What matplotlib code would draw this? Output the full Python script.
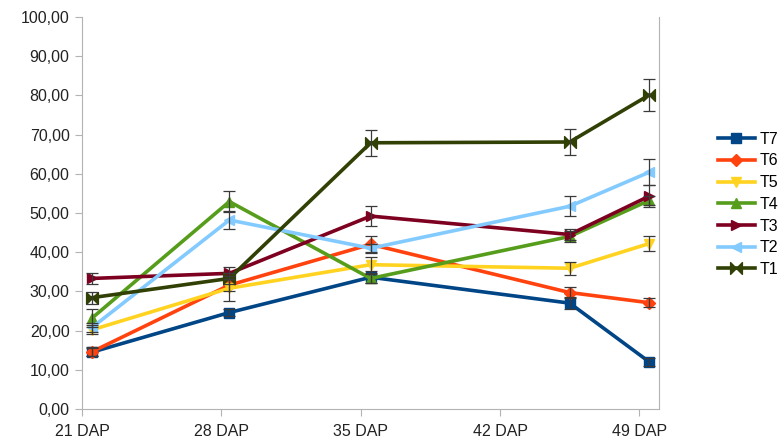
import matplotlib
matplotlib.use("Agg")
import matplotlib.pyplot as plt
from matplotlib.path import Path
from matplotlib.ticker import FuncFormatter

plt.rcParams["font.family"] = ["Liberation Sans", "DejaVu Sans"]

# sampling days (points sit a bit to the right of the labelled ticks)
days = [21.5, 28.4, 35.5, 45.5, 49.5]
tick_days = [21, 28, 35, 42, 49]
tick_labels = ["21 DAP", "28 DAP", "35 DAP", "42 DAP", "49 DAP"]

series_names = ["T7", "T6", "T5", "T4", "T3", "T2", "T1"]
t7 = [14.5, 24.6, 33.6, 27.0, 12.0]
t6 = [14.6, 31.6, 42.0, 29.7, 27.1]
t5 = [20.2, 30.8, 36.8, 35.9, 42.2]
t4 = [23.2, 52.9, 33.3, 44.0, 53.2]
t3 = [33.3, 34.6, 49.2, 44.5, 54.3]
t2 = [20.8, 48.2, 41.0, 51.7, 60.4]
t1 = [28.4, 33.3, 67.9, 68.1, 80.1]

t7_err = [1.0, 1.0, 1.5, 1.5, 1.0]
t6_err = [1.2, 1.5, 2.0, 1.5, 1.2]
t5_err = [1.2, 3.2, 2.0, 1.7, 2.0]
t4_err = [2.4, 2.7, 1.2, 1.5, 1.2]
t3_err = [1.5, 1.5, 2.5, 1.5, 2.8]
t2_err = [1.2, 2.3, 1.2, 2.6, 3.3]
t1_err = [1.5, 1.5, 3.3, 3.3, 4.0]

colors = ["#004586", "#ff420e", "#ffd320", "#579d1c", "#7e0021", "#83caff", "#314004"]

bowtie = Path([(-1, -1), (0, 0), (-1, 1), (-1, -1), (1, -1), (0, 0), (1, 1), (1, -1)],
              [Path.MOVETO, Path.LINETO, Path.LINETO, Path.CLOSEPOLY,
               Path.MOVETO, Path.LINETO, Path.LINETO, Path.CLOSEPOLY])
markers = ["s", "D", "v", "^", ">", "<", bowtie]
sizes = [7.5, 6.5, 7.5, 7.5, 7.5, 7.5, 8.5]

values = [t7, t6, t5, t4, t3, t2, t1]
errors = [t7_err, t6_err, t5_err, t4_err, t3_err, t2_err, t1_err]

fig = plt.figure(figsize=(7.82, 4.41), dpi=100)
ax = fig.add_axes([0.105, 0.0726, 0.738, 0.889])

for name, vals, err, col, mk, ms in zip(series_names, values, errors, colors, markers, sizes):
    ax.plot(days, vals, color=col, lw=2.6, marker=mk, ms=ms, label=name, zorder=3)
    ax.errorbar(days, vals, yerr=err, fmt="none", ecolor="#3a3a3a", elinewidth=0.9,
                capsize=4, capthick=0.9, zorder=4)

ax.set_xlim(21, 50)
ax.set_ylim(0, 100)
ax.set_yticks(range(0, 101, 10))
ax.yaxis.set_major_formatter(FuncFormatter(lambda v, p: f"{v:.2f}".replace(".", ",")))
ax.set_xticks(tick_days)
ax.set_xticklabels(tick_labels)

for side in ["left", "bottom", "right"]:
    ax.spines[side].set_color("#b3b3b3")
ax.spines["top"].set_visible(False)
ax.tick_params(axis="both", colors="#b3b3b3", labelcolor="#222222", labelsize=11.5, length=5)
ax.tick_params(axis="y", pad=4)
ax.tick_params(axis="x", pad=6)
ax.tick_params(axis="y", which="both", right=False)

ax.legend(loc="center left", bbox_to_anchor=(1.085, 0.522), frameon=False, fontsize=11.5,
          handlelength=2.3, labelspacing=0.42, handletextpad=0.3, borderaxespad=0.2)

fig.savefig("out.png", dpi=100)
